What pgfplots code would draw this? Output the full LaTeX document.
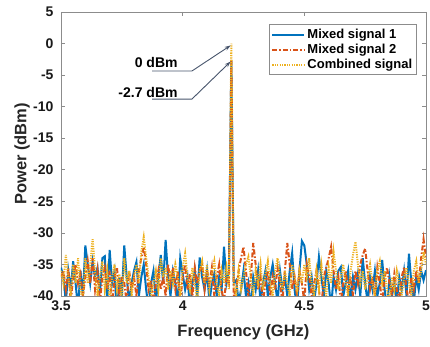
\documentclass[border=0pt]{standalone}
\usepackage{pgfplots}
\pgfplotsset{compat=1.18}
\usepackage{pgfplotstable}
\usepackage{fontspec}
\setmainfont{Liberation Sans}
\usetikzlibrary{arrows.meta,calc}
\definecolor{mblue}{rgb}{0,0.447,0.741}
\definecolor{morange}{rgb}{0.85,0.325,0.098}
\definecolor{myellow}{rgb}{0.929,0.694,0.125}
\definecolor{arr}{rgb}{0.28,0.33,0.42}
\pgfplotstableread{
x s1 s2 s3
3.50 -35.5 -37 -36
3.51 -37 -36 -38
3.52 -41 -39 -33.5
3.53 -36 -35.5 -37
3.54 -39 -41 -40
3.55 -34.5 -37 -35
3.56 -38 -35 -38
3.57 -42 -38 -34
3.58 -36 -36.5 -39
3.59 -40 -40 -41
3.60 -32 -37 -34
3.61 -35 -34.5 -38
3.62 -38 -38 -35
3.63 -34.5 -34 -31
3.64 -37 -39 -36
3.65 -35.5 -36 -40
3.66 -39.5 -41 -37
3.67 -34 -37 -34.5
3.68 -33.7 -35.5 -39
3.69 -41 -39 -36
3.70 -32.7 -36 -41
3.71 -38 -42 -37
3.72 -36 -37 -35
3.73 -43 -35.5 -39
3.74 -37 -40 -36.5
3.75 -40 -37 -41
3.76 -32 -38 -34
3.77 -37 -41 -38
3.78 -41 -36 -36
3.79 -38 -39 -40
3.80 -36 -37 -37
3.81 -34.6 -40 -35
3.82 -40 -36 -38
3.83 -37 -34 -33
3.84 -35 -32.2 -30.7
3.85 -39 -35 -34
3.86 -42 -39 -37
3.87 -38 -37.5 -40
3.88 -36 -41 -38
3.89 -41 -38 -36
3.90 -37 -36 -39
3.91 -33.5 -39 -34
3.92 -38 -37 -37
3.93 -31.1 -40 -35.5
3.94 -37 -35 -39
3.95 -40 -38 -36
3.96 -36 -35.5 -38
3.97 -38 -39 -35
3.98 -41 -36 -37
3.99 -34 -41 -40
4.00 -36.5 -37 -35.5
4.01 -39 -35 -33.3
4.02 -37 -39 -37
4.03 -42 -36.5 -39
4.04 -38 -40 -35.5
4.05 -36 -35.5 -38
4.06 -40 -38 -41
4.07 -33.9 -36 -36
4.08 -37 -35 -34.5
4.09 -39 -39 -38
4.10 -36 -36 -35
4.11 -41 -38 -39
4.12 -38 -35.5 -36.5
4.13 -36.5 -40 -34.5
4.14 -40 -37 -38
4.15 -37 -35 -40
4.16 -39 -39 -36
4.17 -32.2 -41 -38
4.18 -38 -37 -35.5
4.19 -36 -38 -39
4.20 -2.7 -2.7 0
4.21 -38 -40 -38
4.22 -37.5 -39 -40
4.23 -41 -36 -36
4.24 -39 -34 -39
4.25 -36 -32.2 -37
4.26 -40 -36 -35
4.27 -38 -40 -33.8
4.28 -42 -37 -37
4.29 -37 -31.6 -40
4.30 -39 -35 -36
4.31 -36 -39 -38
4.32 -41 -37 -35
4.33 -38 -41 -39
4.34 -36 -38 -36.5
4.35 -40 -36 -34.5
4.36 -37 -40 -38
4.37 -35 -37 -40
4.38 -38 -39 -36
4.39 -41 -35.5 -34
4.40 -36 -38 -37
4.41 -39 -41 -39
4.42 -37 -36 -36
4.43 -40 -31.6 -38
4.44 -36 -35 -40
4.45 -33.2 -39 -35
4.46 -39 -37 -37
4.47 -42 -40 -39
4.48 -36 -36 -36
4.49 -31.3 -38 -38
4.50 -32 -41 -35
4.51 -35 -35 -37
4.52 -39 -37 -34
4.53 -37 -40 -38
4.54 -41 -38 -40
4.55 -38 -36 -36
4.56 -33.8 -39 -39
4.57 -37 -42 -35
4.58 -40 -37 -38
4.59 -36 -35.5 -40
4.60 -38 -34 -35.5
4.61 -42 -32.2 -38
4.62 -37 -36 -33
4.63 -39 -39 -36
4.64 -36 -37 -39
4.65 -35.4 -41 -37
4.66 -40 -38 -35
4.67 -38 -36 -38
4.68 -36 -39 -40
4.69 -41 -37 -36
4.70 -37 -40 -33.5
4.71 -39 -36 -31.4
4.72 -36.5 -38 -35
4.73 -40 -35 -38
4.74 -34 -33.5 -36
4.75 -38 -32.5 -39
4.76 -41 -36 -37
4.77 -37 -39 -35
4.78 -39 -37 -38
4.79 -36 -40 -40
4.80 -40 -35.5 -36
4.81 -38 -38 -34.5
4.82 -34.3 -41 -38
4.83 -39 -37 -36
4.84 -42 -35.5 -39
4.85 -37 -38 -41
4.86 -40 -40 -37
4.87 -38 -36.5 -39
4.88 -41 -39 -36
4.89 -37 -41 -38
4.90 -39 -37 -40
4.91 -36 -35.5 -37
4.92 -40 -39 -35.5
4.93 -33.3 -41 -38
4.94 -38 -37 -40
4.95 -41 -39 -36
4.96 -37 -36 -34.5
4.97 -39 -38 -38
4.98 -36 -34 -36
4.99 -37.5 -31 -33
5.00 -35.9 -34 -35
}\spectrum
\begin{document}
\begin{tikzpicture}
\begin{axis}[
  scale only axis,
  width=365pt, height=284pt,
  xmin=3.5, xmax=5, ymin=-40, ymax=5,
  xtick={3.5,4,4.5,5}, ytick={-40,-35,...,5},
  xticklabels={3.5,4,4.5,5},
  tick align=inside, tick pos=both,
  major tick length=4pt,
  axis line style={black!45, line width=0.6pt},
  every tick/.style={black!45, line width=0.6pt},
  /pgf/number format/assume math mode=true,
  tick label style={font=\fontsize{14}{16}\selectfont\bfseries, black!90},
  yticklabel style={xshift=-4pt},
  xticklabel style={yshift=-1.5pt},
  xlabel={Frequency (GHz)}, ylabel={Power (dBm)},
  label style={font=\fontsize{16.5}{18}\selectfont\bfseries, black!85},
  xlabel style={at={(axis description cs:0.5,0)}, anchor=center, yshift=-36pt},
  ylabel style={at={(axis description cs:0,0.5)}, anchor=center, rotate=0, yshift=39pt},
  legend style={at={(1,1)}, anchor=north east, xshift=-9pt, yshift=-12.5pt,
    font=\fontsize{13}{15}\selectfont\bfseries, draw=black!45, line width=0.6pt,
    row sep=0pt, inner sep=2.5pt},
  legend cell align=left,
  legend image code/.code={\draw[#1] (0pt,0pt) -- (32pt,0pt);},
]
\addplot[mblue, line width=2pt] table[x=x, y=s1] {\spectrum};
\addplot[morange, line width=2pt, dash pattern=on 5pt off 2pt on 1.5pt off 2pt] table[x=x, y=s2] {\spectrum};
\addplot[myellow, line width=2pt, dash pattern=on 1.2pt off 1.2pt] table[x=x, y=s3] {\spectrum};
\legend{Mixed signal 1, Mixed signal 2, Combined signal}
\draw[arr, line width=0.9pt, -{Stealth[length=6pt,width=4pt]}] (axis cs:3.874,-4.35) -- (axis cs:4.038,-4.35) -- (axis cs:4.197,-0.3);
\draw[arr, line width=0.9pt, -{Stealth[length=6pt,width=4pt]}] (axis cs:3.874,-8.8) -- (axis cs:4.038,-8.8) -- (axis cs:4.197,-2.85);
\node[anchor=base east, inner sep=0pt, font=\fontsize{14}{16}\selectfont\bfseries] at (axis cs:3.98,-3.72) {0 dBm};
\node[anchor=base east, inner sep=0pt, font=\fontsize{14}{16}\selectfont\bfseries] at (axis cs:3.98,-8.47) {-2.7 dBm};
\end{axis}
\pgfresetboundingbox
\path ($(current axis.south west)+(-61pt,-51pt)$) rectangle ($(current axis.north east)+(4pt,12pt)$);
\end{tikzpicture}
\end{document}
